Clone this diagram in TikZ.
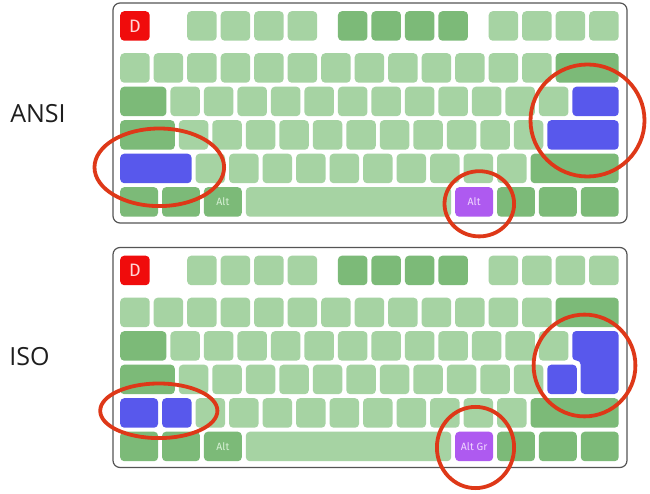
\documentclass[tikz,border=0pt]{standalone}
\usepackage{fontspec}
\setmainfont{Open Sans}
\newfontfamily\keyfont{Fira Sans}
\definecolor{keylight}{RGB}{166,211,163}
\definecolor{keydark}{RGB}{124,186,120}
\definecolor{keyblue}{RGB}{88,88,236}
\definecolor{keypurple}{RGB}{174,90,240}
\definecolor{keyred}{RGB}{240,12,12}
\definecolor{ringred}{RGB}{222,56,24}
\definecolor{framegray}{RGB}{85,85,85}
\definecolor{labelgray}{RGB}{30,30,30}
\tikzset{
  key/.style={draw=none, rounded corners=4pt, anchor=north west, minimum height=29.5pt, inner sep=0pt, font=\keyfont\fontsize{10.5}{10.5}\selectfont},
  lt/.style={key, fill=keylight},
  dk/.style={key, fill=keydark, text={rgb,255:red,214;green,240;blue,212}},
  bl/.style={key, fill=keyblue},
  pu/.style={key, fill=keypurple, text={rgb,255:red,240;green,214;blue,255}},
  rd/.style={key, fill=keyred, text={rgb,255:red,255;green,214;blue,214}, font=\keyfont\fontsize{18}{18}\selectfont},
  kbframe/.style={draw=framegray, line width=1.2pt, rounded corners=7pt, fill=white},
  ring/.style={draw=ringred, line width=3.8pt},
  layoutlabel/.style={font=\fontsize{25}{25}\selectfont, text=labelgray, inner sep=0pt}
}
% \K{style}{name}{x unit}{y top}{width units}{text}
\newcommand\K[6]{\node[#1, minimum width={(#5)*33.5pt-4pt}] (#2) at ({120+(#3)*33.5},{#4}) {#6};}
% one keyboard: #1 = prefix, #2 = vertical offset
\newcommand\Keyboard[2]{%
  \draw[kbframe] (113,{3+#2}) rectangle (627,{223+#2});
  % function row
  \K{rd}{#1esc}{0}{11+#2}{1}{D}
  \foreach \i in {2,3,4,5} {\K{lt}{#1f\i}{\i}{11+#2}{1}{}}
  \foreach \i in {6.5,7.5,8.5,9.5} {\K{dk}{#1g\i}{\i}{11+#2}{1}{}}
  \foreach \i in {11,12,13,14} {\K{lt}{#1h\i}{\i}{11+#2}{1}{}}
  % number row
  \foreach \i in {0,...,12} {\K{lt}{#1n\i}{\i}{53+#2}{1}{}}
  \K{dk}{#1bksp}{13}{53+#2}{2}{}
  % tab row
  \K{dk}{#1tab}{0}{86.5+#2}{1.5}{}
  \foreach \i in {0,...,11} {\K{lt}{#1q\i}{1.5+\i}{86.5+#2}{1}{}}
  % caps row
  \K{dk}{#1caps}{0}{120+#2}{1.75}{}
  \foreach \i in {0,...,10} {\K{lt}{#1a\i}{1.75+\i}{120+#2}{1}{}}
  % shift row
  \foreach \i in {0,...,9} {\K{lt}{#1z\i}{2.25+\i}{153.5+#2}{1}{}}
  \K{dk}{#1rshift}{12.25}{153.5+#2}{2.75}{}
  % bottom row
  \K{dk}{#1lctrl}{0}{187+#2}{1.25}{}
  \K{dk}{#1lwin}{1.25}{187+#2}{1.25}{}
  \K{dk}{#1lalt}{2.5}{187+#2}{1.25}{Alt}
  \K{lt}{#1space}{3.75}{187+#2}{6.25}{}
  \K{dk}{#1rwin}{11.25}{187+#2}{1.25}{}
  \K{dk}{#1menu}{12.5}{187+#2}{1.25}{}
  \K{dk}{#1rctrl}{13.75}{187+#2}{1.25}{}
}
\begin{document}
\begin{tikzpicture}[x=1pt,y=-1pt]
\useasboundingbox (0,0) rectangle (650,494);
% ---------- ANSI ----------
\Keyboard{A}{0}
\K{bl}{Abslash}{13.5}{86.5}{1.5}{}
\K{bl}{Aenter}{12.75}{120}{2.25}{}
\K{bl}{Alshift}{0}{153.5}{2.25}{}
\K{pu}{Aralt}{10}{187}{1.25}{Alt}
% ---------- ISO ----------
\Keyboard{I}{244.5}
\K{bl}{Ihash}{12.75}{364.5}{1}{}
\K{bl}{Ilshift}{0}{398}{1.25}{}
\K{bl}{Iiso}{1.25}{398}{1}{}
\K{pu}{Iraltgr}{10}{431.5}{1.25}{Alt Gr}
\fill[keyblue, rounded corners=4pt]
  (572.25,331) -- (618.5,331) -- (618.5,394) -- (580.6,394)
  -- (580.6,360.5) -- (572.25,360.5) -- cycle;
% ---------- labels ----------
\node[layoutlabel] (ansi) at (38,114) {ANSI};
\node[layoutlabel] (iso) at (29.5,357) {ISO};
% ---------- rings ----------
\draw[ring] (159.3,167.3) ellipse [x radius=64.8pt, y radius=38.8pt];
\draw[ring] (587.5,120.5) ellipse [x radius=57pt, y radius=56pt];
\draw[ring] (479.3,203.8) ellipse [x radius=34.8pt, y radius=32.6pt];
\draw[ring] (158.8,410.8) ellipse [x radius=58.6pt, y radius=27.3pt];
\draw[ring] (584.5,365.5) ellipse [x radius=50.9pt, y radius=50.9pt];
\draw[ring] (475.5,447.5) ellipse [x radius=38.6pt, y radius=40.6pt];
\end{tikzpicture}
\end{document}
